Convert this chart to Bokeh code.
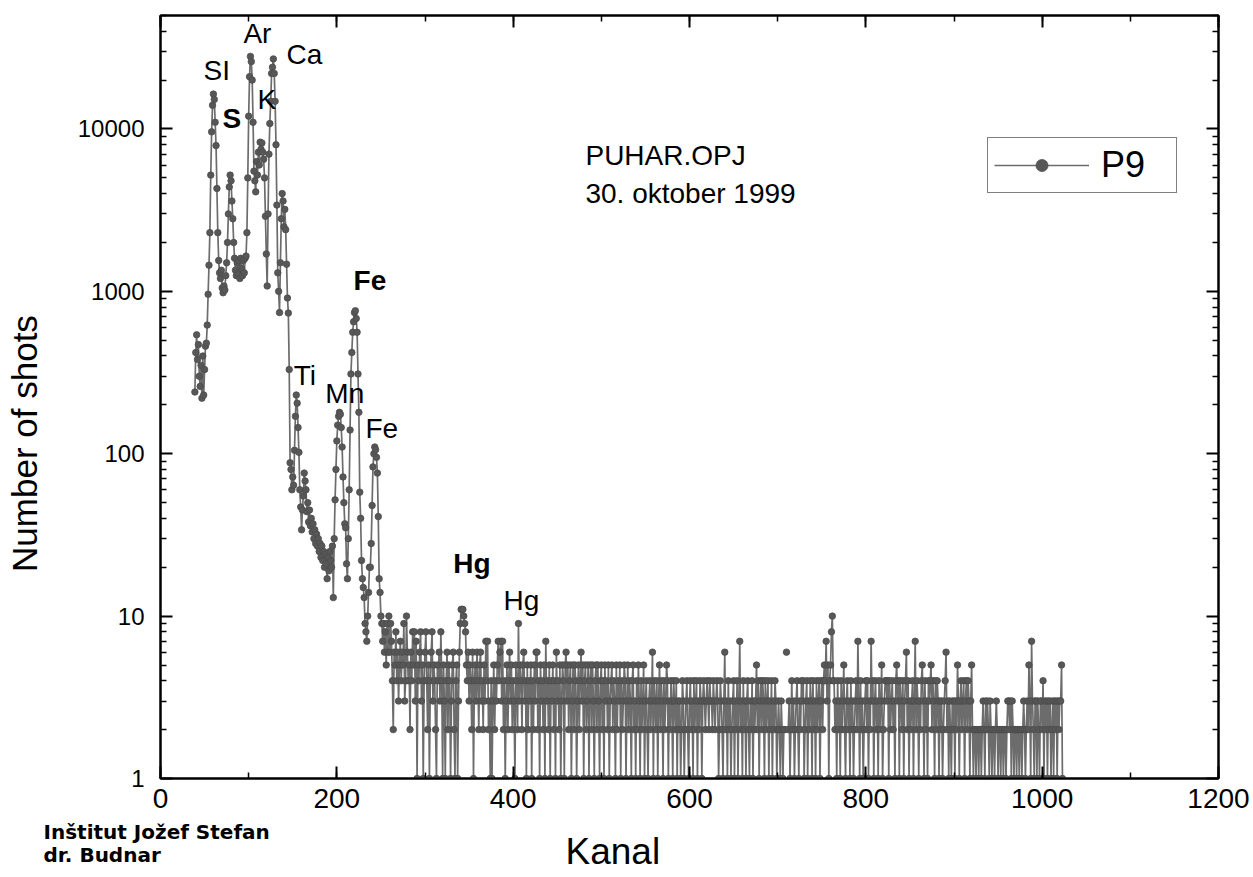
import math
import numpy as np
from bokeh.plotting import figure
from bokeh.layouts import column, row
from bokeh.models import (ColumnDataSource, Range1d, LinearAxis, LogAxis, FixedTicker,
                          SingleIntervalTicker, Label, Legend, LegendItem, CustomJSTickFormatter)
from bokeh.embed import file_html
from bokeh.resources import INLINE

# ---------------- data ----------------
first_channel = 39

# channels 39 .. 251 (Si, S, Ar, K, Ca, Ti, Mn, Fe region)
counts_peaks = [
    240, 420, 540, 380, 470, 300, 260, 350, 220, 400,
    230, 330, 460, 480, 620, 960, 1450, 2300, 5200, 9600,
    14000, 16400, 15200, 11000, 7900, 4300, 2300, 1550, 1300, 1200,
    1350, 1050, 980, 1080, 1020, 1250, 1500, 2000, 3000, 4400,
    5200, 4800, 3600, 2800, 2000, 1600, 1350, 1250, 1500, 1280,
    1550, 1200, 1600, 1380, 1250, 1550, 1300, 1600, 1650, 2300,
    5000, 12000, 21000, 28000, 26000, 20000, 11000, 5500, 4800, 4100,
    6300, 5200, 7200, 6000, 8300, 7500, 8200, 7200, 6500, 5000,
    2900, 1700, 1080, 3000, 7000, 10800, 14800, 22000, 24000, 27000,
    22000, 14800, 8000, 3400, 1300, 1000, 740, 1500, 2800, 4000,
    3600, 2500, 3200, 2400, 1470, 910, 735, 330, 88, 80,
    60, 72, 64, 105, 170, 230, 205, 145, 102, 60,
    47, 34, 45, 55, 76, 68, 60, 44, 50, 38,
    45, 36, 40, 33, 37, 30, 34, 28, 32, 27,
    30, 25, 28, 23, 27, 22, 25, 20, 24, 21,
    17, 23, 19, 25, 22, 20, 27, 13, 30, 52,
    80, 120, 150, 170, 180, 175, 145, 110, 72, 50,
    37, 35, 21, 17, 30, 60, 140, 310, 420, 560,
    650, 740, 760, 680, 560, 310, 180, 58, 40, 22,
    17, 15, 13, 9, 8, 7, 10, 14, 20, 20,
    28, 48, 83, 100, 110, 106, 95, 76, 41, 17,
    14, 10, 9,
]

# channels 252 .. 1023 (background with Hg lines); 0 = empty channel
counts_tail = [
    7, 9, 6, 8, 5, 9, 6, 10, 6, 9,
    7, 4, 2, 6, 5, 8, 4, 6, 3, 5,
    7, 4, 6, 5, 9, 3, 4, 10, 6, 4,
    5, 2, 6, 4, 8, 5, 8, 3, 7, 1,
    5, 4, 6, 8, 3, 5, 1, 4, 6, 8,
    4, 2, 5, 1, 4, 6, 8, 3, 5, 4,
    2, 1, 5, 4, 6, 3, 8, 4, 1, 5,
    3, 1, 4, 6, 2, 5, 4, 1, 3, 5,
    6, 2, 1, 4, 5, 1, 3, 6, 9, 11,
    11, 11, 10, 9, 8, 5, 4, 6, 3, 5,
    4, 2, 6, 1, 4, 5, 3, 6, 4, 2,
    5, 6, 3, 4, 2, 5, 3, 7, 4, 7,
    2, 3, 1, 4, 1, 3, 5, 2, 4, 3,
    5, 7, 4, 6, 7, 3, 7, 2, 4, 1,
    3, 5, 2, 4, 6, 3, 5, 2, 4, 3,
    1, 5, 4, 2, 9, 3, 5, 4, 2, 5,
    6, 3, 4, 1, 5, 2, 4, 3, 5, 1,
    4, 2, 5, 3, 6, 6, 2, 4, 1, 5,
    3, 4, 2, 5, 1, 7, 3, 4, 2, 5,
    1, 4, 3, 5, 2, 4, 1, 6, 3, 4,
    2, 5, 1, 3, 5, 4, 1, 5, 6, 3,
    5, 2, 4, 5, 1, 3, 5, 2, 5, 4,
    1, 3, 5, 2, 4, 6, 3, 5, 1, 4,
    5, 2, 3, 5, 1, 4, 5, 2, 5, 3,
    1, 4, 5, 2, 5, 3, 1, 4, 5, 2,
    4, 1, 5, 3, 4, 2, 5, 1, 3, 4,
    5, 2, 4, 3, 1, 5, 2, 4, 3, 5,
    1, 4, 2, 3, 5, 4, 1, 3, 5, 2,
    4, 3, 1, 4, 5, 2, 3, 1, 4, 2,
    5, 3, 1, 4, 2, 3, 5, 1, 3, 4,
    2, 1, 3, 4, 2, 3, 6, 1, 4, 3,
    2, 4, 1, 3, 5, 2, 4, 3, 1, 4,
    2, 3, 5, 4, 1, 3, 2, 4, 3, 1,
    4, 3, 2, 4, 1, 3, 2, 3, 1, 2,
    4, 3, 1, 2, 3, 4, 2, 1, 3, 4,
    2, 3, 1, 4, 2, 3, 4, 1, 3, 2,
    4, 3, 1, 3, 4, 3, 2, 3, 4, 3,
    2, 4, 3, 3, 2, 4, 3, 2, 3, 4,
    3, 1, 2, 4, 3, 2, 1, 3, 6, 2,
    3, 1, 4, 2, 3, 1, 2, 3, 4, 1,
    3, 2, 4, 1, 3, 7, 2, 3, 1, 4,
    2, 3, 1, 3, 4, 2, 1, 3, 2, 4,
    1, 3, 2, 3, 5, 2, 4, 1, 3, 4,
    2, 4, 3, 1, 4, 2, 3, 4, 1, 3,
    2, 4, 1, 3, 2, 4, 3, 1, 2, 3,
    2, 1, 3, 2, 1, 2, 2, 0, 6, 0,
    2, 3, 1, 2, 4, 2, 3, 1, 2, 3,
    4, 2, 1, 3, 2, 4, 3, 4, 1, 2,
    3, 4, 1, 3, 2, 4, 3, 1, 4, 2,
    3, 1, 4, 2, 3, 4, 1, 3, 4, 2,
    4, 5, 4, 7, 3, 5, 1, 4, 5, 8,
    10, 4, 4, 2, 3, 1, 4, 2, 3, 1,
    4, 2, 3, 5, 2, 1, 3, 4, 2, 3,
    1, 4, 2, 3, 1, 2, 3, 4, 2, 7,
    3, 1, 4, 2, 3, 1, 2, 3, 4, 2,
    4, 1, 3, 2, 7, 3, 4, 1, 3, 4,
    2, 3, 1, 4, 2, 3, 5, 1, 2, 3,
    4, 4, 3, 4, 1, 4, 2, 3, 4, 2,
    3, 1, 4, 5, 3, 4, 1, 4, 3, 2,
    4, 1, 3, 4, 6, 2, 4, 1, 3, 2,
    3, 4, 1, 3, 7, 2, 4, 3, 1, 3,
    2, 4, 5, 3, 1, 4, 2, 3, 1, 4,
    3, 4, 5, 2, 4, 3, 1, 4, 2, 4,
    3, 1, 3, 2, 3, 1, 2, 3, 4, 6,
    2, 3, 1, 3, 2, 1, 3, 2, 3, 1,
    3, 2, 5, 3, 1, 3, 4, 2, 3, 4,
    1, 3, 4, 2, 4, 3, 1, 3, 5, 2,
    1, 2, 2, 1, 2, 2, 1, 2, 2, 1,
    2, 3, 2, 1, 3, 2, 3, 2, 1, 3,
    2, 1, 2, 2, 1, 2, 3, 2, 1, 2,
    2, 1, 2, 2, 1, 2, 2, 1, 2, 3,
    3, 2, 3, 1, 3, 2, 1, 2, 2, 1,
    2, 2, 1, 2, 2, 1, 2, 3, 2, 1,
    2, 3, 2, 5, 3, 1, 7, 3, 2, 1,
    3, 3, 1, 3, 2, 1, 3, 3, 2, 4,
    1, 3, 2, 3, 1, 3, 2, 3, 1, 2,
    3, 1, 3, 2, 3, 1, 3, 2, 3, 3,
    5, 1,
]

series_name = "P9"
y_ticks = [1, 10, 100, 1000, 10000]
y_minor_ticks = [m * d for d in (1, 10, 100, 1000, 10000) for m in range(2, 10)]

# ---------------- build sources ----------------
counts = counts_peaks + counts_tail
channels = np.arange(first_channel, first_channel + len(counts))
cnt = np.array(counts, dtype=float)
y_line = np.where(cnt > 0, cnt, np.nan)
mask = cnt > 0

line_src = ColumnDataSource(dict(x=channels, y=y_line))
pt_src = ColumnDataSource(dict(x=channels[mask], y=cnt[mask]))

# ---------------- main figure ----------------
p = figure(width=1190, height=820, x_range=Range1d(0, 1200), y_range=Range1d(1, 50000),
           y_axis_type="log", output_backend="svg", toolbar_location=None,
           min_border_left=100, min_border_right=32, min_border_top=15, min_border_bottom=42)
p.background_fill_color = "white"
p.border_fill_color = "white"
p.grid.visible = False
p.outline_line_color = "black"
p.outline_line_width = 2

line_r = p.line("x", "y", source=line_src, line_color="#6c6c6c", line_width=1.7)
pts_r = p.scatter("x", "y", source=pt_src, size=6.5, marker="circle",
                  fill_color="#575757", line_color="#4c4c4c", line_width=0.8)

TICK_FONT = "Liberation Sans"

def style_axis(ax, label_size=None, standoff=0):
    ax.axis_line_color = "black"
    ax.axis_line_width = 2
    ax.major_tick_line_color = "black"
    ax.major_tick_line_width = 2
    ax.minor_tick_line_color = "black"
    ax.minor_tick_line_width = 1.5
    ax.major_tick_in = 12
    ax.major_tick_out = 0
    ax.minor_tick_in = 6
    ax.minor_tick_out = 0
    ax.major_label_text_font = TICK_FONT
    ax.major_label_text_color = "black"
    if label_size:
        ax.major_label_text_font_size = label_size
        ax.major_label_standoff = standoff
    else:
        ax.formatter = CustomJSTickFormatter(code="return '';")
        ax.major_label_text_font_size = "1px"
        ax.major_label_standoff = 0

p.xaxis.ticker = SingleIntervalTicker(interval=200, num_minor_ticks=2)
p.yaxis.ticker = FixedTicker(ticks=y_ticks, minor_ticks=y_minor_ticks)
p.yaxis.formatter = CustomJSTickFormatter(code="return Math.round(tick).toString();")
style_axis(p.xaxis[0], "28px", 10)
style_axis(p.yaxis[0], "24px", 16)

top_ax = LinearAxis(ticker=SingleIntervalTicker(interval=200, num_minor_ticks=2))
style_axis(top_ax)
p.add_layout(top_ax, "above")
right_ax = LogAxis(ticker=FixedTicker(ticks=y_ticks, minor_ticks=y_minor_ticks))
style_axis(right_ax)
p.add_layout(right_ax, "right")

def add_text(fig, txt, x, y, size, bold=False, font="Liberation Sans", align="left",
             baseline="alphabetic", angle=0.0):
    fig.add_layout(Label(x=x, y=y, text=txt, text_font=font, text_font_size=f"{size}px",
                         text_font_style="bold" if bold else "normal", text_align=align,
                         text_baseline=baseline, angle=angle, text_color="black"))

# peak labels
add_text(p, "SI", 48.8, 23040, 28)
add_text(p, "S", 70.3, 11680, 28, bold=True)
add_text(p, "Ar", 94, 38940, 28)
add_text(p, "K", 110, 15300, 28)
add_text(p, "Ca", 143, 28920, 28)
add_text(p, "Fe", 219, 1160, 28, bold=True)
add_text(p, "Ti", 151, 302, 28)
add_text(p, "Mn", 187, 234, 28)
add_text(p, "Fe", 232.5, 143, 28)
add_text(p, "Hg", 332, 21.1, 28, bold=True)
add_text(p, "Hg", 389, 12.4, 28)

# info text
add_text(p, "PUHAR.OPJ", 482, 6820, 28)
add_text(p, "30. oktober 1999", 482, 3980, 28)

# legend
legend = Legend(items=[LegendItem(label=series_name, renderers=[line_r, pts_r])],
                location=(827, 585))
legend.border_line_color = "black"
legend.border_line_width = 1.5
legend.background_fill_color = "white"
legend.background_fill_alpha = 1.0
legend.label_text_font = "Liberation Sans"
legend.label_text_font_size = "36px"
legend.label_text_color = "black"
legend.glyph_width = 95
legend.glyph_height = 30
legend.label_standoff = 12
legend.padding = 6
legend.margin = 0
legend.label_width = 69
p.add_layout(legend)

# ---------------- text strips (axis title on the left, captions below) ----------------
def text_strip(width, height):
    f = figure(width=width, height=height, x_range=Range1d(0, width), y_range=Range1d(0, height),
               output_backend="svg", toolbar_location=None, x_axis_location=None,
               y_axis_location=None, min_border=0)
    f.grid.visible = False
    f.outline_line_color = None
    f.background_fill_color = "white"
    f.border_fill_color = "white"
    return f

left_strip = text_strip(60, 820)
add_text(left_strip, "Number of shots", 24, 360, 35, align="center", baseline="middle",
         angle=math.pi / 2)

bottom_strip = text_strip(1250, 54)
add_text(bottom_strip, "Inštitut Jožef Stefan", 43, 43, 20, bold=True, font="DejaVu Sans")
add_text(bottom_strip, "dr. Budnar", 43, 20, 20, bold=True, font="DejaVu Sans")
add_text(bottom_strip, "Kanal", 565, 23, 37)

layout = column(row(left_strip, p, spacing=0), bottom_strip, spacing=0)

open("out.html", "w").write(file_html(layout, INLINE))
